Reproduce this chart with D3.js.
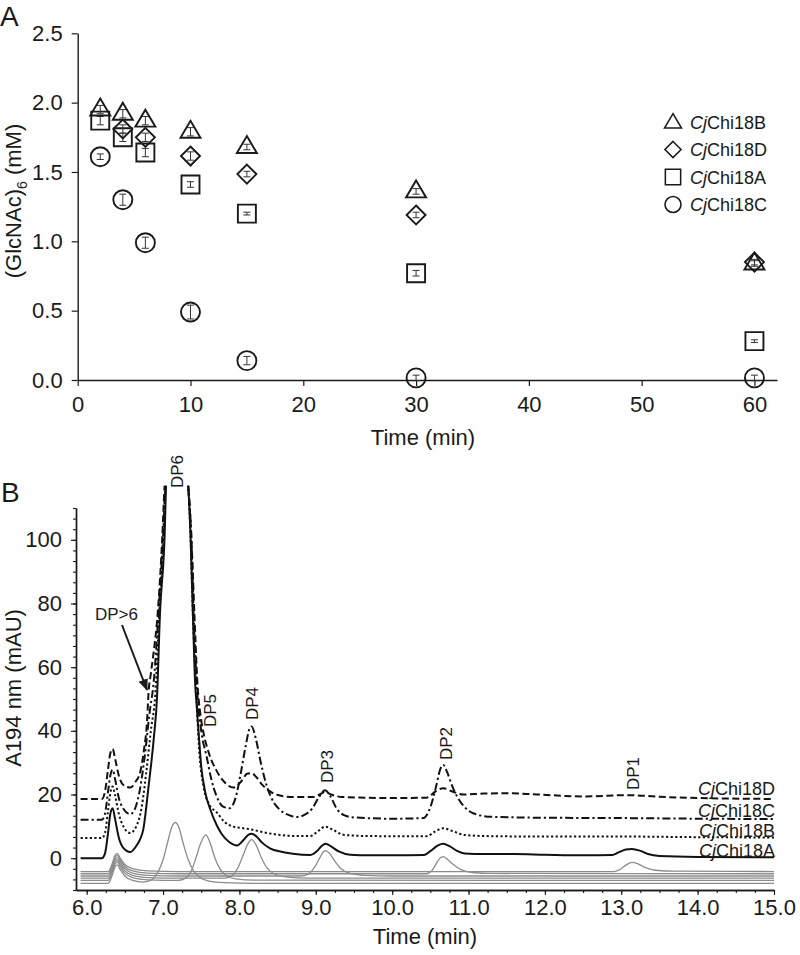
<!DOCTYPE html>
<html><head><meta charset="utf-8">
<script src="https://cdn.jsdelivr.net/npm/d3@7"></script>
<style>
html,body{margin:0;padding:0;background:#fff;}
svg{display:block;font-family:"Liberation Sans",Arial,Helvetica,sans-serif;}
</style></head>
<body>
<svg id="chart" width="800" height="955"></svg>
<script>
// ---------- Panel A data ----------
const timesA = [2, 4, 6, 10, 15, 30, 60];
const seriesNamesA = ["CjChi18B", "CjChi18D", "CjChi18A", "CjChi18C"];
const symbolsA = ["triangle", "diamond", "square", "circle"];
const chi18B = [1.95, 1.92, 1.87, 1.79, 1.68, 1.36, 0.84];
const chi18D = [null, 1.81, 1.75, 1.615, 1.485, 1.19, 0.85];
const chi18A = [1.87, 1.75, 1.64, 1.41, 1.20, 0.77, 0.28];
const chi18C = [1.61, 1.30, 0.99, 0.49, 0.14, 0.015, 0.015];
const errB = [0.03, 0.03, 0.03, 0.03, 0.02, 0.02, 0.02];
const errD = [null, 0.03, 0.03, 0.03, 0.02, 0.02, 0.02];
const errA = [0.03, 0.03, 0.03, 0.02, 0.01, 0.02, 0.01];
const errC = [0.02, 0.04, 0.04, 0.05, 0.03, 0.02, 0.02];
const xTicksA = [0, 10, 20, 30, 40, 50, 60];
const yTicksA = [0, 0.5, 1.0, 1.5, 2.0, 2.5];

// ---------- Panel B data (time min, mAU) ----------
const traceNamesB = ["CjChi18D", "CjChi18C", "CjChi18B", "CjChi18A"];
const traceChi18A = [[5.92,0],[6.2,0],[6.24,1.5],[6.28,8],[6.31,14],[6.34,15.7],[6.37,12.5],[6.42,6.5],[6.48,3.2],[6.57,1.9],[6.64,3.5],[6.7,6],[6.74,8.9],[6.81,22.5],[6.88,38],[6.92,50],[6.96,77],[7.02,101],[7.04,117],[7.18,150],[7.33,117],[7.36,101],[7.39,77],[7.42,55],[7.44,48],[7.47,38],[7.5,28.8],[7.55,21],[7.62,15.2],[7.7,10.5],[7.77,7.5],[7.87,5],[7.97,4.0],[8.05,5.6],[8.12,7.4],[8.16,7.7],[8.22,6.9],[8.3,4.8],[8.4,3.1],[8.55,2.0],[8.7,1.4],[8.93,1.0],[9.02,2.3],[9.08,3.9],[9.13,4.5],[9.2,3.7],[9.3,2.1],[9.45,1.1],[9.7,0.9],[10.0,0.9],[10.42,1.0],[10.5,2.2],[10.6,4.0],[10.67,4.5],[10.75,3.8],[10.85,2.3],[10.95,1.5],[11.2,1.3],[11.6,1.3],[12.0,1.1],[12.5,0.9],[12.88,1.0],[12.97,1.9],[13.06,2.7],[13.14,2.9],[13.25,2.3],[13.35,1.3],[13.5,0.7],[14.0,0.4],[15.0,0.3]];
const traceChi18B = [[5.92,6.3],[6.2,6.3],[6.24,8],[6.28,15],[6.31,20.5],[6.34,22.5],[6.37,20],[6.42,14],[6.48,10],[6.57,7.9],[6.65,10],[6.72,16],[6.78,27],[6.84,40],[6.9,52],[6.95,77],[7.01,101],[7.03,117],[7.18,150],[7.33,117],[7.36,101],[7.39,77],[7.43,55],[7.47,35],[7.53,22.5],[7.6,17],[7.71,14.2],[7.8,11.5],[7.92,9.9],[8.05,9.4],[8.16,9.0],[8.3,8.2],[8.5,7.4],[8.7,7.0],[8.93,7.0],[9.03,8.5],[9.12,9.9],[9.22,9.0],[9.35,7.4],[9.6,7.0],[10.0,6.9],[10.45,6.9],[10.57,8.5],[10.67,9.4],[10.78,8.6],[10.95,7.3],[11.3,6.9],[12.0,6.8],[13.0,6.8],[14.0,6.6],[15.0,6.5]];
const traceChi18C = [[5.92,12.1],[6.2,12.1],[6.24,14],[6.28,21],[6.31,26],[6.34,27.8],[6.37,25],[6.42,19],[6.48,15.5],[6.57,13.8],[6.64,16],[6.7,22],[6.76,32],[6.82,45],[6.88,56],[6.94,77],[7.0,101],[7.03,117],[7.18,150],[7.33,117],[7.37,101],[7.4,77],[7.44,55],[7.5,40],[7.57,32],[7.63,25],[7.7,19.5],[7.78,16.3],[7.87,15.7],[7.95,19],[8.02,27],[8.08,35],[8.13,40.5],[8.16,41.4],[8.21,38],[8.28,30],[8.36,22.5],[8.45,17.5],[8.53,15.2],[8.65,13.5],[8.75,12.9],[8.85,13.6],[8.95,15.5],[9.05,19.5],[9.12,21.3],[9.19,19.5],[9.27,15.7],[9.37,13.5],[9.5,12.8],[10.0,12.4],[10.41,12.6],[10.5,16],[10.58,23],[10.63,28],[10.67,29.3],[10.72,27],[10.78,23],[10.85,19.4],[10.95,16],[11.06,14.1],[11.3,13.0],[12.0,12.7],[13.0,12.6],[14.0,12.4],[15.0,12.3]];
const traceChi18D = [[5.92,18.6],[6.2,18.6],[6.24,21],[6.28,28],[6.31,33],[6.34,34.3],[6.37,31.5],[6.42,26],[6.48,23],[6.57,22.2],[6.64,24],[6.7,27],[6.75,34],[6.79,43],[6.81,52],[6.84,58],[6.87,63.4],[6.93,77],[6.99,101],[7.02,117],[7.18,150],[7.33,117],[7.37,101],[7.41,77],[7.45,55],[7.49,45],[7.53,39.3],[7.6,33],[7.7,27.5],[7.8,24],[7.92,22.2],[8.02,24],[8.1,26.5],[8.16,26.7],[8.22,25.5],[8.3,23],[8.4,21],[8.49,19.9],[8.7,19.2],[8.95,19.2],[9.05,20],[9.12,20.8],[9.2,20],[9.35,19.2],[10.0,18.9],[10.45,19.0],[10.57,21],[10.67,22],[10.78,21],[10.93,20],[11.2,20.3],[11.5,20.4],[11.9,20.0],[12.5,19.4],[13.1,19.8],[13.5,19.3],[14.0,18.9],[15.0,18.6]];
const standardDP1 = [[5.92,-4.2],[6.28,-4.2],[6.33,-2],[6.37,0.8],[6.4,1.5],[6.44,0],[6.5,-2],[6.6,-3.3],[6.8,-4.0],[7.2,-4.2],[12.9,-4.2],[12.98,-3.6],[13.06,-2.2],[13.14,-1.3],[13.22,-1.8],[13.32,-3.0],[13.45,-3.8],[13.7,-4.1],[15.0,-4.2]];
const standardDP2 = [[5.92,-4.9],[6.28,-4.9],[6.33,-2.6],[6.37,0.2],[6.4,0.9],[6.44,-0.6],[6.5,-2.6],[6.6,-4.0],[6.8,-4.7],[7.2,-4.9],[10.45,-4.9],[10.52,-3.9],[10.58,-1.6],[10.64,0.3],[10.67,0.5],[10.72,-0.3],[10.8,-2.0],[10.9,-3.6],[11.05,-4.5],[11.3,-4.8],[15.0,-4.9]];
const standardDP3 = [[5.92,-5.6],[6.28,-5.6],[6.33,-3.3],[6.37,-0.5],[6.4,0.2],[6.44,-1.3],[6.5,-3.3],[6.6,-4.7],[6.8,-5.4],[7.2,-5.6],[8.8,-5.6],[8.9,-5.0],[8.98,-3.0],[9.05,0],[9.1,2.0],[9.13,2.4],[9.18,1.5],[9.25,-1.0],[9.33,-3.3],[9.45,-4.8],[9.65,-5.4],[10.0,-5.6],[15.0,-5.6]];
const standardDP4 = [[5.92,-6.3],[6.28,-6.3],[6.33,-4],[6.37,-1.2],[6.4,-0.5],[6.44,-2],[6.5,-4],[6.6,-5.4],[6.8,-6.1],[7.2,-6.3],[7.8,-6.3],[7.9,-5.5],[7.98,-3.0],[8.05,1.0],[8.11,4.5],[8.16,5.8],[8.22,4.0],[8.29,0],[8.36,-3.0],[8.45,-4.9],[8.6,-5.9],[8.9,-6.3],[15.0,-6.3]];
const standardDP5 = [[5.92,-7.0],[6.28,-7.0],[6.33,-4.7],[6.37,-1.9],[6.4,-1.2],[6.44,-2.7],[6.5,-4.7],[6.6,-6.1],[6.8,-6.8],[7.2,-7.0],[7.3,-6.2],[7.37,-4.0],[7.43,0],[7.49,4.5],[7.56,7.3],[7.62,4.5],[7.68,0],[7.75,-3.5],[7.83,-5.5],[7.95,-6.5],[8.2,-6.9],[15.0,-7.0]];
const standardDP6 = [[5.92,-7.9],[6.28,-7.9],[6.33,-5.6],[6.37,-2.8],[6.4,-2.1],[6.44,-3.6],[6.5,-5.6],[6.6,-7.0],[6.75,-7.5],[6.85,-6.8],[6.93,-4.5],[7.0,-0.5],[7.06,5.0],[7.11,9.5],[7.16,11.2],[7.21,9.5],[7.26,5.0],[7.33,-0.5],[7.4,-4.0],[7.48,-6.0],[7.6,-7.2],[7.8,-7.7],[8.2,-7.9],[15.0,-7.9]];
const peakLabels = ["DP6", "DP5", "DP4", "DP3", "DP2", "DP1"];
const xTicksB = [6, 7, 8, 9, 10, 11, 12, 13, 14, 15];
const yTicksB = [0, 20, 40, 60, 80, 100];

// ---------- Drawing ----------
const svg = d3.select("#chart");
const ink = "#1a1a1a";

// ===== Panel A =====
const xA = d3.scaleLinear().domain([0, 62]).range([77.7, 777]);
const yA = d3.scaleLinear().domain([0, 2.5]).range([380, 33.3]);
const gA = svg.append("g");

const axA_x = gA.append("g").attr("transform", `translate(0,${yA(0)})`)
  .call(d3.axisBottom(xA).tickValues(xTicksA).tickSize(6).tickSizeOuter(0).tickPadding(10).tickFormat(d3.format("d")));
const axA_y = gA.append("g").attr("transform", `translate(${xA(0)},0)`)
  .call(d3.axisLeft(yA).tickValues(yTicksA).tickSize(6).tickSizeOuter(0).tickPadding(9).tickFormat(d3.format(".1f")));
[axA_x, axA_y].forEach(a => {
  a.select(".domain").attr("stroke", ink).attr("stroke-width", 1.4);
  a.selectAll(".tick line").attr("stroke", ink).attr("stroke-width", 1.2);
  a.selectAll(".tick text").attr("fill", ink).style("font-size", "22px").style("font-family", "Liberation Sans, Arial, sans-serif");
});

gA.append("text").attr("x", 423).attr("y", 445).attr("text-anchor", "middle")
  .attr("fill", ink).style("font-size", "22px").text("Time (min)");
const ylabA = gA.append("text").attr("transform", `translate(21,201) rotate(-90)`)
  .attr("text-anchor", "middle").attr("fill", ink).style("font-size", "22px");
ylabA.append("tspan").text("(GlcNAc)");
ylabA.append("tspan").attr("dy", 6).style("font-size", "14px").text("6");
ylabA.append("tspan").attr("dy", -6).text(" (mM)");
svg.append("text").attr("x", 0).attr("y", 26).attr("fill", ink).style("font-size", "28px").text("A");

function symbolPath(kind, cx, cy) {
  if (kind === "triangle") return `M${cx},${cy-11}L${cx+10},${cy+6}L${cx-10},${cy+6}Z`;
  if (kind === "diamond") return `M${cx},${cy-9.5}L${cx+9.5},${cy}L${cx},${cy+9.5}L${cx-9.5},${cy}Z`;
  return `M${cx-9},${cy-9}H${cx+9}V${cy+9}H${cx-9}Z`;
}
const seriesA = [
  {vals: chi18B, errs: errB, sym: "triangle"},
  {vals: chi18D, errs: errD, sym: "diamond"},
  {vals: chi18A, errs: errA, sym: "square"},
  {vals: chi18C, errs: errC, sym: "circle"}
];
seriesA.slice().reverse().forEach(s => {
  const pts = timesA.map((t, i) => ({t, v: s.vals[i], e: s.errs[i]})).filter(p => p.v !== null);
  const g = gA.append("g");
  pts.forEach(p => {
    const x = xA(p.t), y1 = yA(p.v - p.e), y2 = yA(p.v + p.e);
    g.append("line").attr("x1", x).attr("x2", x).attr("y1", y1).attr("y2", y2).attr("stroke", "#333").attr("stroke-width", 1);
    g.append("line").attr("x1", x-3.5).attr("x2", x+3.5).attr("y1", y1).attr("y2", y1).attr("stroke", "#333").attr("stroke-width", 1);
    g.append("line").attr("x1", x-3.5).attr("x2", x+3.5).attr("y1", y2).attr("y2", y2).attr("stroke", "#333").attr("stroke-width", 1);
  });
  pts.forEach(p => {
    const x = xA(p.t), y = yA(p.v);
    if (s.sym === "circle") {
      g.append("circle").attr("cx", x).attr("cy", y).attr("r", 9.5).attr("fill", "none").attr("stroke", ink).attr("stroke-width", 1.9);
    } else {
      g.append("path").attr("d", symbolPath(s.sym, x, y)).attr("fill", "none").attr("stroke", ink).attr("stroke-width", 1.9);
    }
  });
});

// legend A
const legY = [122, 149.5, 177, 204.5];
seriesNamesA.forEach((name, i) => {
  const cx = 673, cy = legY[i];
  if (symbolsA[i] === "circle") {
    gA.append("circle").attr("cx", cx).attr("cy", cy).attr("r", 8).attr("fill", "none").attr("stroke", ink).attr("stroke-width", 1.6);
  } else {
    gA.append("path").attr("d", symbolPath(symbolsA[i], 0, 0)).attr("transform", `translate(${cx},${cy + (symbolsA[i]==="triangle"?1:0)}) scale(0.85)`)
      .attr("fill", "none").attr("stroke", ink).attr("stroke-width", 1.8);
  }
  const t = gA.append("text").attr("x", 690).attr("y", cy + 6.5).attr("fill", ink).style("font-size", "18px");
  t.append("tspan").style("font-style", "italic").text(name.slice(0, 2));
  t.append("tspan").text(name.slice(2));
});

// ===== Panel B =====
const xB = d3.scaleLinear().domain([5.86, 15]).range([76, 774]);
const yB = d3.scaleLinear().domain([-10, 110]).range([890, 508]);
const gB = svg.append("g");

const defs = svg.append("defs");
defs.append("clipPath").attr("id", "clipB").append("rect")
  .attr("x", xB(5.86)).attr("y", yB(117)).attr("width", xB(15) - xB(5.86)).attr("height", yB(-10) - yB(117));
defs.append("marker").attr("id", "arrow").attr("viewBox", "0 0 10 10").attr("refX", 9).attr("refY", 5)
  .attr("markerWidth", 6).attr("markerHeight", 6).attr("orient", "auto")
  .append("path").attr("d", "M0,1L10,5L0,9Z").attr("fill", ink);

const minorX = d3.range(0, 37).map(i => 6 + i * 0.25);
const minorY = d3.range(0, 37).map(i => -10 + i * 10 / 3);
const axB_xm = gB.append("g").attr("transform", `translate(0,${yB(-10)})`)
  .call(d3.axisBottom(xB).tickValues(minorX).tickSize(3).tickSizeOuter(0).tickFormat(""));
const axB_ym = gB.append("g").attr("transform", `translate(${xB(5.86)},0)`)
  .call(d3.axisLeft(yB).tickValues(minorY).tickSize(3).tickSizeOuter(0).tickFormat(""));
const axB_x = gB.append("g").attr("transform", `translate(0,${yB(-10)})`)
  .call(d3.axisBottom(xB).tickValues(xTicksB).tickSize(5).tickSizeOuter(0).tickPadding(4).tickFormat(d3.format(".1f")));
const axB_y = gB.append("g").attr("transform", `translate(${xB(5.86)},0)`)
  .call(d3.axisLeft(yB).tickValues(yTicksB).tickSize(5).tickSizeOuter(0).tickPadding(9).tickFormat(d3.format("d")));
[axB_xm, axB_ym, axB_x, axB_y].forEach(a => {
  a.select(".domain").attr("stroke", ink).attr("stroke-width", 1.4);
  a.selectAll(".tick line").attr("stroke", ink).attr("stroke-width", 1.1);
  a.selectAll(".tick text").attr("fill", ink).style("font-size", "22px").style("font-family", "Liberation Sans, Arial, sans-serif");
});

gB.append("text").attr("x", 425).attr("y", 944).attr("text-anchor", "middle")
  .attr("fill", ink).style("font-size", "22px").text("Time (min)");
gB.append("text").attr("transform", `translate(21,688) rotate(-90)`).attr("text-anchor", "middle")
  .attr("fill", ink).style("font-size", "22px").text("A194 nm (mAU)");
svg.append("text").attr("x", 1).attr("y", 502).attr("fill", ink).style("font-size", "28px").text("B");

const line = d3.line().x(d => xB(d[0])).y(d => yB(d[1])).curve(d3.curveMonotoneX);
const plot = gB.append("g").attr("clip-path", "url(#clipB)");
[standardDP1, standardDP2, standardDP3, standardDP4, standardDP5, standardDP6].forEach(s => {
  plot.append("path").attr("d", line(s)).attr("fill", "none").attr("stroke", "#8c8c8c").attr("stroke-width", 1.3);
});
const traces = [
  {data: traceChi18D, dash: "7,3.5"},
  {data: traceChi18C, dash: "8,3,2.2,3"},
  {data: traceChi18B, dash: "2.2,2.4"},
  {data: traceChi18A, dash: null}
];
traces.forEach(tr => {
  const p = plot.append("path").attr("d", line(tr.data)).attr("fill", "none").attr("stroke", "#111").attr("stroke-width", 2);
  if (tr.dash) p.attr("stroke-dasharray", tr.dash);
});

const traceLabelY = [795, 817, 837, 857];
traceNamesB.forEach((name, i) => {
  const t = gB.append("text").attr("x", 775).attr("y", traceLabelY[i]).attr("text-anchor", "end")
    .attr("fill", ink).style("font-size", "18px");
  t.append("tspan").style("font-style", "italic").text(name.slice(0, 2));
  t.append("tspan").text(name.slice(2));
});

const labelPos = [[183, 488], [216, 727], [258, 720], [333, 783], [452, 760], [639, 790]];
peakLabels.forEach((lab, i) => {
  gB.append("text").attr("transform", `translate(${labelPos[i][0]},${labelPos[i][1]}) rotate(-90)`).attr("fill", ink)
    .style("font-size", "17px").text(lab);
});
gB.append("text").attr("x", 95).attr("y", 620).attr("fill", ink).style("font-size", "17px").text("DP>6");
gB.append("line").attr("x1", 122).attr("y1", 625).attr("x2", 147).attr("y2", 690)
  .attr("stroke", ink).attr("stroke-width", 2).attr("marker-end", "url(#arrow)");
</script>
</body></html>
